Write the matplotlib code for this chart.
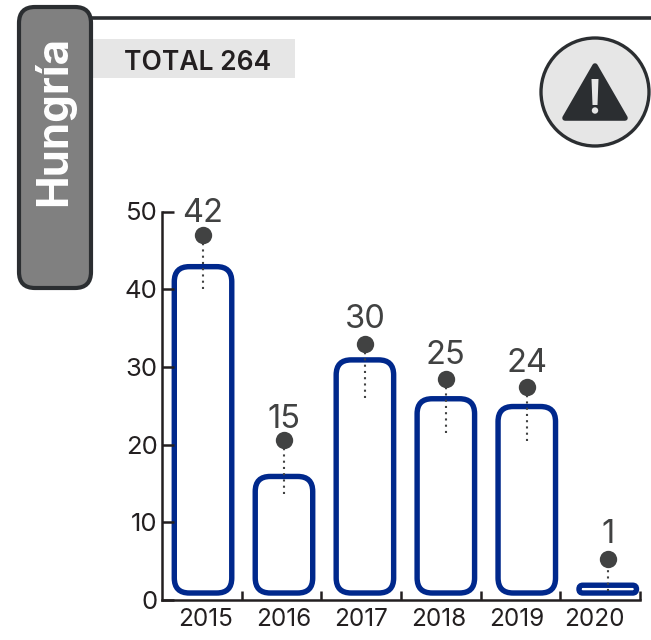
"""Hungría panel: yearly counts as rounded outline bars with lollipop labels."""

import matplotlib

matplotlib.use("Agg")
import matplotlib.pyplot as plt
from matplotlib.patches import Circle, FancyBboxPatch, Polygon, Rectangle

plt.rcParams["font.family"] = ["Inter", "DejaVu Sans"]

W, H = 651, 640

YEARS = ["2015", "2016", "2017", "2018", "2019", "2020"]
VALUES = [42, 15, 30, 25, 24, 1]
DOT_HEIGHT = [47.0, 20.6, 33.0, 28.4, 27.4, 5.3]
STEM_END = [40.0, 13.6, 26.0, 21.5, 20.4, 1.2]
LABEL_GAP = [21, 20, 24, 24, 24, 24]  # px above the dot
Y_TICKS = [0, 10, 20, 30, 40, 50]

BLUE = "#00288c"
DARK = "#2b2e31"
INK = "#231f20"
DOT = "#414242"
PANEL = "#e6e6e6"

BAR_BASE = 0.9  # bars float slightly above the axis in the original
BAR_W = 57.5 / 79.7
BAR_STEP = 1.016
LABEL_STEP = 0.975


def px(x0, y0, x1, y1):
    """Figure fraction rect from pixel box (y measured from the top)."""
    return [x0 / W, 1 - y1 / H, (x1 - x0) / W, (y1 - y0) / H]


fig = plt.figure(figsize=(W / 100, H / 100), dpi=100, facecolor="white")

# ── Decoration in pixel coordinates ──────────────────────────────────────────
bg = fig.add_axes([0, 0, 1, 1])
bg.set_xlim(0, W)
bg.set_ylim(H, 0)
bg.axis("off")

bg.plot([90, W], [18, 18], color=DARK, lw=2.6, solid_capstyle="butt")
bg.add_patch(Rectangle((93, 39), 202, 39, fc=PANEL, ec="none"))
bg.add_patch(
    FancyBboxPatch(
        (19, 7), 72, 281, boxstyle="round,pad=0,rounding_size=16", fc="#808080", ec=DARK, lw=3
    )
)
bg.text(54, 121, "Hungría", rotation=90, color="white", fontsize=31.5, fontweight="bold",
        ha="center", va="center")
bg.text(198, 62.5, "TOTAL 264", color=INK, fontsize=19, fontweight="semibold",
        ha="center", va="center")

bg.add_patch(Circle((595, 92), 54, fc=PANEL, ec=DARK, lw=2.4))
bg.add_patch(Polygon([(595, 66), (625, 118), (565, 118)], closed=True, fc=DARK, ec=DARK,
                     lw=4, joinstyle="round"))
bg.add_patch(Polygon([(591.5, 79), (598.5, 79), (597.5, 105), (592.5, 105)], closed=True,
                     fc=PANEL, ec="none"))
bg.add_patch(Circle((595, 110.5), 3.2, fc=PANEL, ec="none"))

# ── Chart ────────────────────────────────────────────────────────────────────
ax = fig.add_axes(px(162, 211.5, 640, 600))
ax.patch.set_alpha(0)
ax.set_xlim(-0.5, 5.5)
ax.set_ylim(0, 50)

x_px = (640 - 162) / 6
y_px = (600 - 211.5) / 50
aspect = x_px / y_px

for i, v in enumerate(VALUES):
    x = 0.015 + i * BAR_STEP
    rounding = min(15 / x_px, v * aspect ** -1 * 0.5)
    ax.add_patch(
        FancyBboxPatch(
            (x - BAR_W / 2, BAR_BASE),
            BAR_W,
            v,
            boxstyle=f"round,pad=0,rounding_size={rounding}",
            mutation_aspect=aspect,
            fc="white",
            ec=BLUE,
            lw=3.9,
            clip_on=False,
        )
    )
    ax.plot([x, x], [STEM_END[i], DOT_HEIGHT[i]], color=DOT, lw=1.5,
            ls=(0, (1, 2.0)), zorder=4)
    ax.plot([x], [DOT_HEIGHT[i]], "o", color=DOT, ms=12.5, mew=0, zorder=5, clip_on=False)
    ax.annotate(
        str(v),
        (x, DOT_HEIGHT[i]),
        xytext=(0, LABEL_GAP[i] * 0.72),
        textcoords="offset points",
        ha="center",
        va="center",
        fontsize=23.5,
        color=DOT,
        annotation_clip=False,
    )

for side in ("top", "right"):
    ax.spines[side].set_visible(False)
for side in ("left", "bottom"):
    ax.spines[side].set_color(INK)
    ax.spines[side].set_linewidth(1.8)

ax.set_yticks(Y_TICKS)
ax.tick_params(axis="y", direction="in", length=8.5, width=1.8, color=INK, pad=3,
               labelsize=18.5, labelcolor=INK)
ax.set_xticks([i + 0.5 for i in range(6)], labels=[""] * 6)
ax.tick_params(axis="x", which="major", direction="in", length=6.5, width=1.8, color=INK)
ax.set_xticks([0.05 + i * LABEL_STEP for i in range(6)], labels=YEARS, minor=True)
ax.tick_params(axis="x", which="minor", length=0, pad=6, labelsize=17.5, labelcolor=INK)

fig.savefig("out.png", dpi=100)
plt.close(fig)
